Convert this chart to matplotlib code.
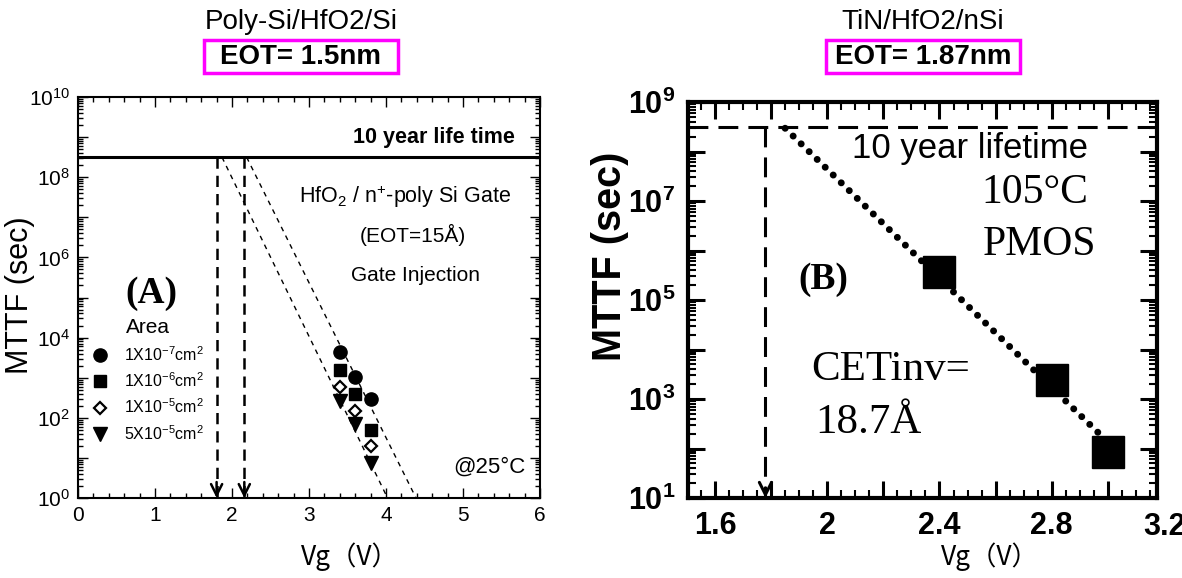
import numpy as np
import matplotlib
matplotlib.use("Agg")
import matplotlib.pyplot as plt
from matplotlib.ticker import (MultipleLocator, LogLocator, FuncFormatter,
                               NullFormatter)
from matplotlib.patches import Rectangle
from matplotlib.transforms import blended_transform_factory

plt.rcParams['font.family'] = ['Liberation Sans', 'DejaVu Sans']
plt.rcParams['mathtext.default'] = 'regular'

# ---------------- data ----------------
ten_year = 3.15e8                      # 10 years in seconds

# (A) Poly-Si / HfO2 / Si, breakdown times for four gate areas
vg_a = [3.4, 3.6, 3.8]
area_labels = ["1X10$^{-7}$cm$^{2}$", "1X10$^{-6}$cm$^{2}$",
               "1X10$^{-5}$cm$^{2}$", "5X10$^{-5}$cm$^{2}$"]
mttf_area_1e7 = [4.4e3, 1.05e3, 2.9e2]
mttf_area_1e6 = [1.6e3, 3.9e2, 51]
mttf_area_1e5 = [5.8e2, 1.5e2, 20]
mttf_area_5e5 = [2.7e2, 70, 7.4]
fit_a1_v = [1.87, 4.02]
fit_a1_t = [3.15e8, 1.0]
fit_a2_v = [2.19, 4.39]
fit_a2_t = [3.15e8, 1.0]
vmax_a = [1.80, 2.16]

# (B) TiN / HfO2 / nSi, PMOS at 105 C
vg_b = [2.4, 2.8, 3.0]
mttf_b = [3.7e5, 2.4e3, 85]
fit_b_v = [1.85, 3.0]
fit_b_t = [2.95e8, 1.35e2]
vmax_b = 1.78

# ---------------- figure ----------------
W, H = 1182, 578
fig = plt.figure(figsize=(W / 100, H / 100), dpi=100)
fig.patch.set_facecolor('white')


def px_axes(x0, y0, x1, y1):
    return fig.add_axes([x0 / W, 1 - y1 / H, (x1 - x0) / W, (y1 - y0) / H])


def px_box(x0, y0, x1, y1, color='#FF00FF', lw=2.5):
    fig.add_artist(Rectangle((x0 / W, 1 - y1 / H), (x1 - x0) / W, (y1 - y0) / H,
                             transform=fig.transFigure, fill=False,
                             ec=color, lw=lw))


axA = px_axes(78, 97, 540, 498)
axB = px_axes(688, 102, 1157, 498)

# ---- panel titles ----
fig.text(301 / W, 1 - 22 / H, 'Poly-Si/HfO2/Si', ha='center', va='center',
         fontsize=20)
fig.text(301 / W, 1 - 57 / H, 'EOT= 1.5nm', ha='center', va='center',
         fontsize=20, fontweight='bold')
px_box(204, 40, 398, 73)
fig.text(923 / W, 1 - 22 / H, 'TiN/HfO2/nSi', ha='center', va='center',
         fontsize=20)
fig.text(923 / W, 1 - 57 / H, 'EOT= 1.87nm', ha='center', va='center',
         fontsize=20, fontweight='bold')
px_box(826, 40, 1020, 73)

# ================= panel A =================
axA.set_yscale('log')
axA.set_xlim(0, 6)
axA.set_ylim(1, 1e10)

axA.axhline(ten_year, color='k', lw=2.2, zorder=3)
for v in vmax_a:
    axA.plot([v, v], [ten_year, 1.0], color='k', lw=1.8, dashes=(4.5, 2.8))
    axA.annotate('', xy=(v, 1.0), xytext=(v, 2.5),
                 arrowprops=dict(arrowstyle='->', color='k', lw=1.8,
                                 mutation_scale=20, shrinkA=0, shrinkB=0))
for fv, ft in ((fit_a1_v, fit_a1_t), (fit_a2_v, fit_a2_t)):
    axA.plot(fv, ft, color='k', lw=1.0, dashes=(3.5, 3.5))

axA.plot(vg_a, mttf_area_1e7, 'o', color='k', ms=9.5, ls='none',
         label=area_labels[0])
axA.plot(vg_a, mttf_area_1e6, 's', color='k', ms=8.5, ls='none',
         label=area_labels[1])
axA.plot(vg_a, mttf_area_1e5, 'D', mfc='white', mec='k', mew=1.6, ms=6,
         ls='none', label=area_labels[2])
axA.plot(vg_a, mttf_area_5e5, 'v', color='k', ms=10, ls='none',
         label=area_labels[3])

axA.legend(title='Area', loc='upper left', bbox_to_anchor=(0.021, 0.456),
           frameon=False, fontsize=11.5, title_fontsize=15,
           handlelength=1.2, handletextpad=0.9, labelspacing=0.48,
           borderpad=0.2, borderaxespad=0)

axA.text(0.946, 0.900, '10 year life time', transform=axA.transAxes,
         ha='right', va='center', fontsize=15.5, fontweight='bold')
axA.text(0.937, 0.752, 'HfO$_{2}$ / n$^{+}$-poly Si Gate',
         transform=axA.transAxes, ha='right', va='center', fontsize=15.5)
axA.text(0.725, 0.655, '(EOT=15Å)', transform=axA.transAxes,
         ha='center', va='center', fontsize=15)
axA.text(0.730, 0.555, 'Gate Injection', transform=axA.transAxes,
         ha='center', va='center', fontsize=15)
axA.text(0.158, 0.511, '(A)', transform=axA.transAxes, ha='center',
         va='center', fontsize=27, fontweight='bold',
         family='Liberation Serif')
axA.text(0.968, 0.077, '@25°C', transform=axA.transAxes, ha='right',
         va='center', fontsize=16)

axA.xaxis.set_major_locator(MultipleLocator(1))
axA.xaxis.set_minor_locator(MultipleLocator(0.2))
axA.yaxis.set_major_locator(LogLocator(base=10, numticks=20))
axA.yaxis.set_minor_locator(LogLocator(base=10, subs=np.arange(2, 10),
                                       numticks=20))


def fmt_even(v, pos):
    e = int(round(np.log10(v)))
    return f'10$^{{{e}}}$' if e % 2 == 0 else ''


axA.yaxis.set_major_formatter(FuncFormatter(fmt_even))
axA.yaxis.set_minor_formatter(NullFormatter())
axA.tick_params(which='both', direction='in', top=True, right=True, width=1.0)
axA.tick_params(which='major', length=7, labelsize=15, pad=6)
axA.tick_params(which='minor', length=3.5)
for s in axA.spines.values():
    s.set_linewidth(1.5)

axA.set_ylabel('MTTF (sec)', fontsize=22, va='center')
axA.yaxis.set_label_coords(-0.126, 0.506)
axA.set_xlabel('Vg（V）', fontsize=19, va='center',
               family=['Noto Sans CJK JP', 'DejaVu Sans'])
axA.xaxis.set_label_coords(0.589, -0.147)

# ================= panel B =================
axB.set_yscale('log')
axB.set_xlim(1.504, 3.175)
axB.set_ylim(10, 1e9)

axB.axhline(ten_year, color='k', lw=2.2, dashes=(6.5, 3.3))
axB.plot([vmax_b, vmax_b], [ten_year, 10], color='k', lw=2.2,
         dashes=(6.5, 3.3))
axB.annotate('', xy=(vmax_b, 10), xytext=(vmax_b, 16),
             arrowprops=dict(arrowstyle='->', color='k', lw=2.2,
                             mutation_scale=22, shrinkA=0, shrinkB=0))
axB.plot(fit_b_v, fit_b_t, color='k', lw=5, linestyle=(0, (0.01, 1.6)),
         dash_capstyle='round')
axB.plot(vg_b, mttf_b, 's', color='k', ms=23, ls='none')

axB.text(0.853, 0.882, '10 year lifetime', transform=axB.transAxes,
         ha='right', va='center', fontsize=25)
axB.text(0.853, 0.770, '105°C', transform=axB.transAxes, ha='right',
         va='center', fontsize=30, family='Liberation Serif')
axB.text(0.870, 0.639, 'PMOS', transform=axB.transAxes, ha='right',
         va='center', fontsize=30, family='Liberation Serif')
axB.text(0.288, 0.551, '(B)', transform=axB.transAxes, ha='center',
         va='center', fontsize=27, fontweight='bold',
         family='Liberation Serif')
axB.text(0.262, 0.323, 'CETinv=', transform=axB.transAxes, ha='left',
         va='center', fontsize=31, family='Liberation Serif')
axB.text(0.271, 0.189, '18.7Å', transform=axB.transAxes, ha='left',
         va='center', fontsize=31, family='Liberation Serif')

axB.xaxis.set_major_locator(MultipleLocator(0.2))
axB.xaxis.set_minor_locator(MultipleLocator(0.05))
axB.xaxis.set_major_formatter(FuncFormatter(
    lambda v, p: f'{round(v, 1):g}' if round(v * 10) % 4 == 0 else ''))
axB.yaxis.set_major_locator(LogLocator(base=10, numticks=20))
axB.yaxis.set_minor_locator(LogLocator(base=10, subs=np.arange(2, 10),
                                       numticks=20))


def fmt_odd(v, pos):
    e = int(round(np.log10(v)))
    return f'10$^{{{e}}}$' if e % 2 == 1 else ''


axB.yaxis.set_major_formatter(FuncFormatter(fmt_odd))
axB.yaxis.set_minor_formatter(NullFormatter())
axB.tick_params(which='both', direction='in', top=True, right=True)
axB.tick_params(which='major', length=12, width=2.2, labelsize=22, pad=9)
axB.tick_params(which='minor', length=5.5, width=1.5)
for s in axB.spines.values():
    s.set_linewidth(3)
plt.setp(axB.get_xticklabels() + axB.get_yticklabels(), fontweight='bold')
axB.text(3.2, -0.035, '3.2',
         transform=blended_transform_factory(axB.transData, axB.transAxes),
         ha='center', va='top', fontsize=22, fontweight='bold', clip_on=False)

axB.set_ylabel('MTTF (sec)', fontsize=28.5, fontweight='bold', va='center')
axB.yaxis.set_label_coords(-0.167, 0.61)
axB.set_xlabel('Vg（V）', fontsize=19, va='center',
               family=['Noto Sans CJK JP', 'DejaVu Sans'])
axB.xaxis.set_label_coords(0.644, -0.149)

fig.savefig('out.png', dpi=100, facecolor='white')
